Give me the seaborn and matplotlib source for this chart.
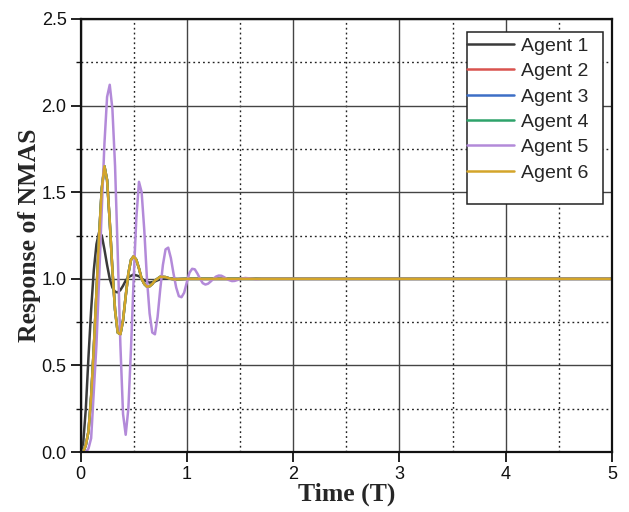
import numpy as np
import pandas as pd
import matplotlib
matplotlib.use("Agg")
import matplotlib.pyplot as plt
import seaborn as sns
from matplotlib.ticker import MultipleLocator
from matplotlib.patches import Rectangle

# ---- data ----
t_a1 = [0, 0.025, 0.05, 0.075, 0.1, 0.125, 0.15, 0.175, 0.2, 0.225, 0.25, 0.275, 0.3, 0.325,
        0.35, 0.375, 0.4, 0.425, 0.45, 0.5, 0.55, 0.6, 0.65, 0.7, 0.75, 0.8, 0.9, 1.5, 5.0]
y_a1 = [0, 0.05, 0.25, 0.55, 0.82, 1.05, 1.2, 1.27, 1.25, 1.17, 1.08, 1.0, 0.95, 0.925,
        0.922, 0.935, 0.96, 0.99, 1.01, 1.025, 1.015, 0.99, 0.978, 0.985, 0.998, 1.003, 1.0, 1.0, 1.0]

t_a6 = [0, 0.025, 0.05, 0.075, 0.1, 0.125, 0.15, 0.175, 0.2, 0.225, 0.25, 0.275, 0.3, 0.325,
        0.35, 0.375, 0.4, 0.425, 0.45, 0.475, 0.5, 0.525, 0.55, 0.575, 0.6, 0.625, 0.65, 0.675,
        0.7, 0.75, 0.8, 0.85, 0.9, 1.0, 5.0]
y_a6 = [0, 0.0, 0.04, 0.12, 0.32, 0.6, 0.92, 1.25, 1.52, 1.65, 1.57, 1.33, 1.05, 0.82,
        0.69, 0.68, 0.76, 0.9, 1.03, 1.11, 1.13, 1.11, 1.06, 1.0, 0.97, 0.955, 0.957, 0.97,
        0.99, 1.012, 1.01, 1.0, 0.997, 1.0, 1.0]

t_a5 = [0, 0.05, 0.075, 0.1, 0.125, 0.15, 0.175, 0.2, 0.225, 0.25, 0.275, 0.3, 0.325, 0.35,
        0.375, 0.4, 0.425, 0.45, 0.475, 0.5, 0.525, 0.55, 0.575, 0.6, 0.625, 0.65, 0.675, 0.7,
        0.725, 0.75, 0.775, 0.8, 0.825, 0.85, 0.875, 0.9, 0.925, 0.95, 0.975, 1.0, 1.025, 1.05,
        1.075, 1.1, 1.125, 1.15, 1.175, 1.2, 1.225, 1.25, 1.275, 1.3, 1.325, 1.35, 1.375, 1.4,
        1.425, 1.45, 1.475, 1.5, 1.55, 1.6, 1.65, 1.7, 5.0]
y_a5 = [0, 0, 0.02, 0.08, 0.35, 0.62, 1.0, 1.4, 1.78, 2.05, 2.12, 1.98, 1.65, 1.15,
        0.62, 0.22, 0.10, 0.25, 0.6, 1.0, 1.35, 1.56, 1.5, 1.28, 1.0, 0.8, 0.69, 0.68,
        0.78, 0.94, 1.08, 1.17, 1.18, 1.12, 1.03, 0.95, 0.9, 0.894, 0.92, 0.98, 1.035, 1.058,
        1.055, 1.03, 1.0, 0.975, 0.967, 0.972, 0.985, 1.0, 1.013, 1.019, 1.018, 1.01, 1.0, 0.992,
        0.987, 0.988, 0.993, 1.0, 1.005, 1.002, 0.998, 1.0, 1.0]

# Agents 2-4 coincide with agent 6 (hidden beneath it in the reference)
t_a2, y_a2 = t_a6, y_a6
t_a3, y_a3 = t_a6, y_a6
t_a4, y_a4 = t_a6, y_a6

agents = ["Agent 1", "Agent 2", "Agent 3", "Agent 4", "Agent 5", "Agent 6"]
series = [(t_a1, y_a1), (t_a2, y_a2), (t_a3, y_a3), (t_a4, y_a4), (t_a5, y_a5), (t_a6, y_a6)]
colors = ["#3a3a3a", "#d9534f", "#3d6fc6", "#2ea36b", "#b38ad9", "#d4a52a"]

rows = []
for name, (tt, yy) in zip(agents, series):
    for a, b in zip(tt, yy):
        rows.append({"Time": a, "Response": b, "Agent": name})
df = pd.DataFrame(rows)

sns.set_style("ticks")
plt.rcParams["font.family"] = ["Liberation Sans", "DejaVu Sans"]

fig = plt.figure(figsize=(6.29, 5.12), dpi=100)
ax = fig.add_axes([0.128, 0.117, 0.845, 0.846])

sns.lineplot(data=df, x="Time", y="Response", hue="Agent", palette=dict(zip(agents, colors)),
             hue_order=agents, sort=False, estimator=None, linewidth=1.8, ax=ax, legend=True)

ax.set_xlim(0, 5)
ax.set_ylim(0, 2.5)
ax.xaxis.set_major_locator(MultipleLocator(1))
ax.xaxis.set_minor_locator(MultipleLocator(0.5))
ax.yaxis.set_major_locator(MultipleLocator(0.5))
ax.yaxis.set_minor_locator(MultipleLocator(0.25))
ax.set_xticks([0, 1, 2, 3, 4, 5])
ax.set_xticklabels(["0", "1", "2", "3", "4", "5"])
ax.set_yticks([0, 0.5, 1.0, 1.5, 2.0, 2.5])
ax.set_yticklabels(["0.0", "0.5", "1.0", "1.5", "2.0", "2.5"])

ax.grid(which="major", color="#444444", linestyle="-", linewidth=1.0)
ax.grid(which="minor", color="#222222", linestyle=(0, (1.3, 2.2)), linewidth=1.0)
ax.set_axisbelow(True)

for s in ax.spines.values():
    s.set_color("#111111")
    s.set_linewidth(1.6)
ax.tick_params(which="major", direction="out", length=7, width=1.3, labelsize=13, colors="#111111", pad=3)
ax.tick_params(which="minor", direction="out", length=3.5, width=1.0, colors="#111111")
ax.tick_params(axis="x", which="minor", length=0)

ax.set_xlabel("Time (T)", family=["Liberation Serif"], fontweight="bold", fontsize=18.5, labelpad=0)
ax.set_ylabel("Response of NMAS", family=["Liberation Serif"], fontweight="bold", fontsize=18.5, labelpad=0)

# legend frame (drawn as a box in axes coordinates) and entries
ax.add_patch(Rectangle((0.727, 0.573), 0.256, 0.397, transform=ax.transAxes, facecolor="white",
                       edgecolor="#222222", linewidth=1.1, zorder=5))
leg = ax.legend(loc="upper left", bbox_to_anchor=(0.727, 0.958), fontsize=14, frameon=False,
                handlelength=2.4, handletextpad=0.36, labelspacing=0.40, borderpad=0.0,
                borderaxespad=0)
leg.set_zorder(6)
for line in leg.get_lines():
    line.set_linewidth(1.8)

fig.savefig("out.png", dpi=100)
